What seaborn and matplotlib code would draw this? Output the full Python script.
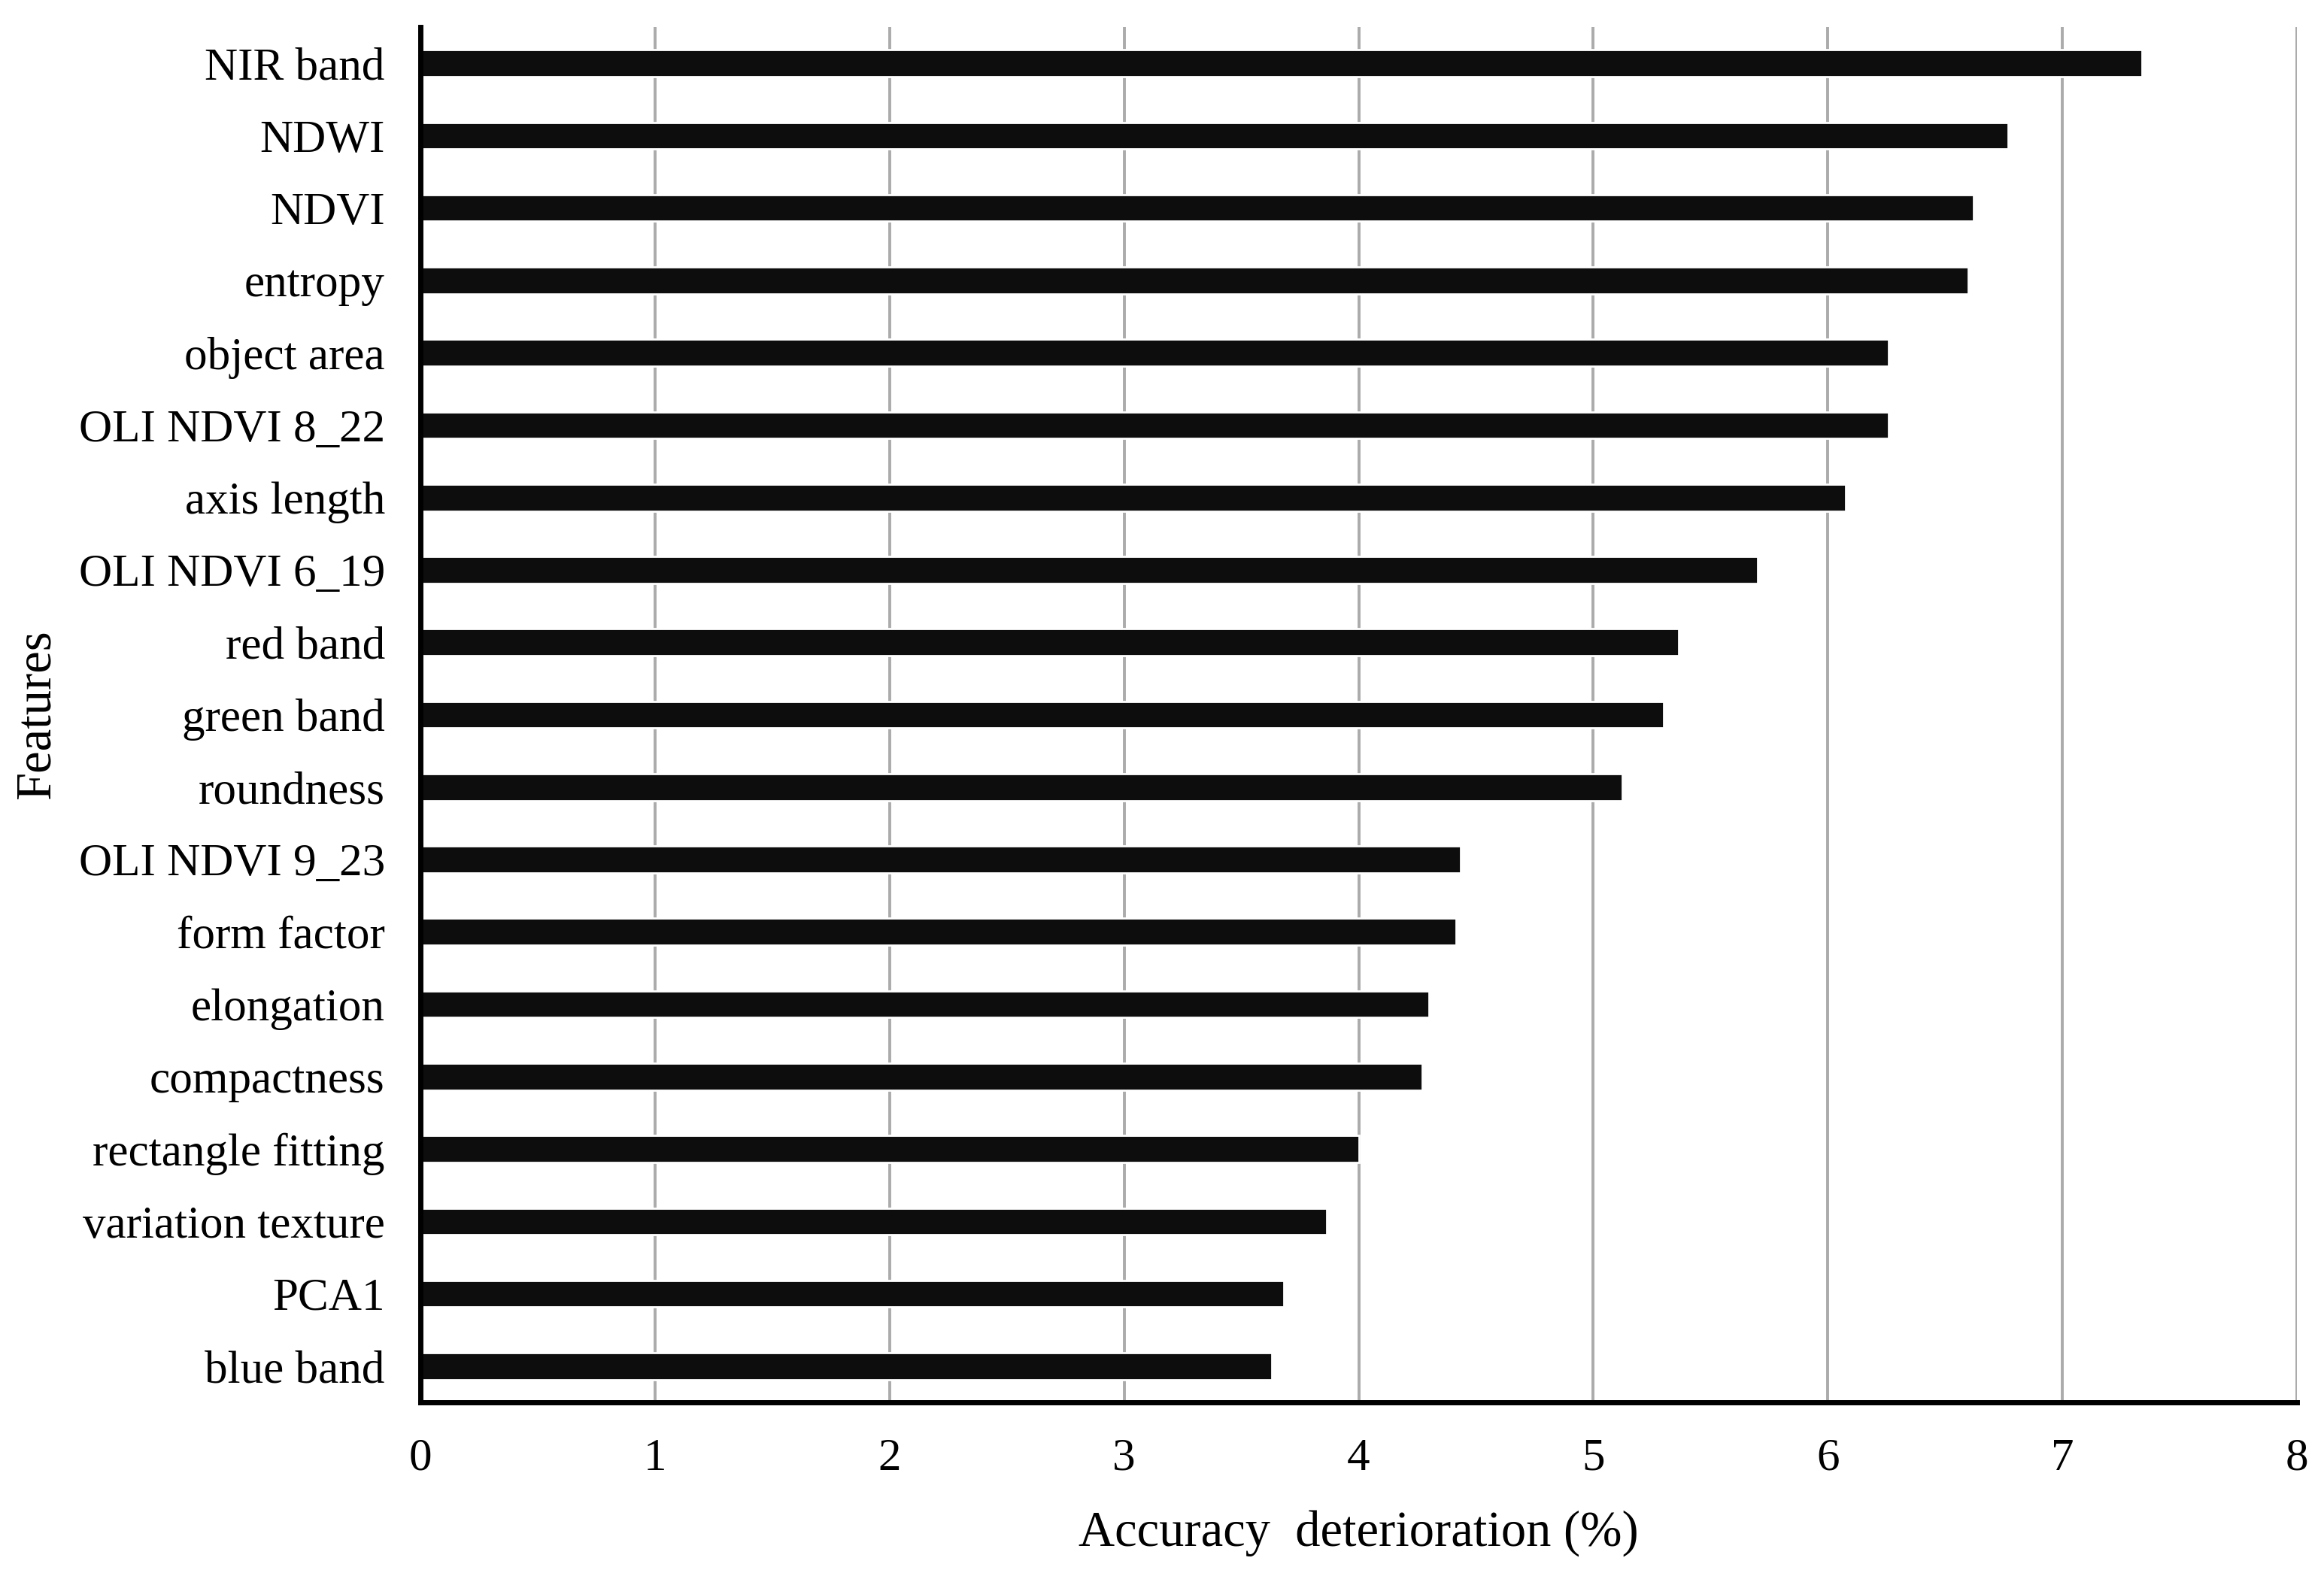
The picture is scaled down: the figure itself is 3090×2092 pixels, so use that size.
import matplotlib
matplotlib.use("Agg")
import matplotlib.pyplot as plt
import seaborn as sns
import pandas as pd

features = [
    "NIR band", "NDWI", "NDVI", "entropy", "object area", "OLI NDVI 8_22",
    "axis length", "OLI NDVI 6_19", "red band", "green band", "roundness",
    "OLI NDVI 9_23", "form factor", "elongation", "compactness",
    "rectangle fitting", "variation texture", "PCA1", "blue band",
]
deterioration = [
    7.34, 6.77, 6.62, 6.60, 6.26, 6.26, 6.075, 5.70, 5.365, 5.30, 5.125,
    4.435, 4.415, 4.30, 4.27, 4.00, 3.865, 3.68, 3.63,
]
x_ticks = [0, 1, 2, 3, 4, 5, 6, 7, 8]

df = pd.DataFrame({"Feature": features, "Value": deterioration})

sns.set_theme(style="white")
plt.rcParams["font.family"] = ["Liberation Serif", "DejaVu Serif"]

W, H, DPI = 3090, 2092, 200
fig = plt.figure(figsize=(W / DPI, H / DPI), dpi=DPI)
ax_left, ax_right = 559 / W, 3054 / W
ax_top, ax_bottom = 1 - 36 / H, 1 - 1865 / H
ax = fig.add_axes([ax_left, ax_bottom, ax_right - ax_left, ax_top - ax_bottom])

sns.barplot(data=df, x="Value", y="Feature", orient="h", color="#0d0d0d",
            saturation=1, width=0.37, ax=ax, zorder=3)

ax.set_xlim(0, 8)
ax.set_xticks(x_ticks)
ax.set_xticklabels([str(t) for t in x_ticks])
ax.set_ylim(18.5, -0.5)

ax.xaxis.grid(True, color="#ababab", linewidth=1.4, zorder=0)
ax.yaxis.grid(False)
ax.set_axisbelow(True)

for s in ["top", "right"]:
    ax.spines[s].set_visible(False)
for s in ["left", "bottom"]:
    ax.spines[s].set_visible(True)
    ax.spines[s].set_color("black")
    ax.spines[s].set_linewidth(2.5)
    ax.spines[s].set_zorder(4)

ax.tick_params(axis="x", length=0, pad=17, labelsize=22, colors="black")
ax.tick_params(axis="y", length=0, pad=17, labelsize=22, colors="black")

ax.set_xlabel("Accuracy  deterioration (%)", fontsize=24, color="black")
ax.set_ylabel("Features", fontsize=24, color="black")
ax.xaxis.set_label_coords(0.5, -0.078)
ax.yaxis.set_label_coords(-0.192, 0.5)

fig.savefig("out.png", dpi=DPI, facecolor="white")
